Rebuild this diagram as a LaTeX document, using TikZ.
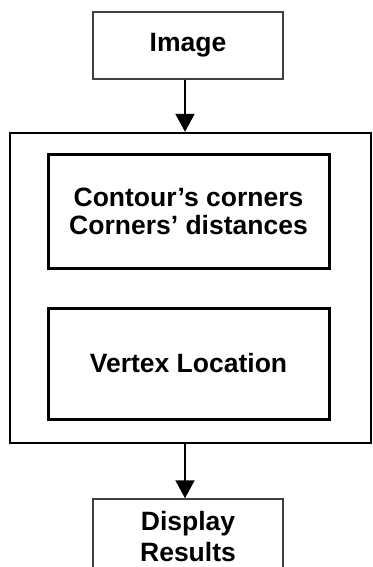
\documentclass[tikz,border=0pt]{standalone}
\usepackage{fontspec}
\setmainfont{Liberation Sans}
\usetikzlibrary{arrows.meta}
\begin{document}
\begin{tikzpicture}[x=1pt,y=-1pt,
  lbl/.style={font=\fontsize{26.5}{28}\selectfont\bfseries, align=center},
  endbox/.style={draw=black!75, line width=1.8pt, lbl, inner sep=0pt},
  stagebox/.style={draw=black, line width=3pt, lbl, inner sep=0pt},
  flow/.style={line width=2pt, -{Triangle[width=19pt,length=18pt]}}]
  \useasboundingbox (0,0) rectangle (372,567);
  \clip (0,0) rectangle (372,567);
  % input
  \node[endbox, minimum width=190pt, minimum height=67pt] (img) at (188,45.5) {Image};
  % processing block
  \node[draw=black, line width=2.4pt, minimum width=361pt, minimum height=310pt, inner sep=0pt] (proc) at (190.5,288) {};
  \node[stagebox, minimum width=281pt, minimum height=114pt] (corners) at (188.5,211) {Contour’s corners\\Corners’ distances};
  \node[stagebox, minimum width=281pt, minimum height=111pt] (vertex) at (188.5,363.5) {Vertex Location};
  % output
  \node[endbox, line width=1.5pt, minimum width=190pt, minimum height=76pt] (disp) at (188,537) {Display\\[3pt]Results};
  % connectors
  \draw[flow] (img.south -| 185,0) -- (proc.north -| 185,0);
  \draw[flow] (proc.south -| 185,0) -- (disp.north -| 185,0);
\end{tikzpicture}
\end{document}
